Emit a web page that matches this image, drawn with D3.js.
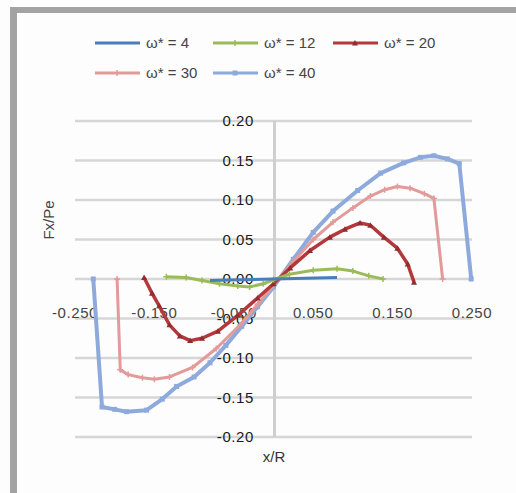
<!DOCTYPE html>
<html>
<head>
<meta charset="utf-8">
<script src="https://cdn.jsdelivr.net/npm/d3@7"></script>
<style>
  body { margin: 0; background: #fff; }
  text { font-family: "Liberation Sans", Arial, sans-serif; }
</style>
</head>
<body>
<div id="viz"></div>
<script>
const width = 516;
const height = 493;

// Data (x/R, Fx/Pe)
const w4X  = [-0.080, -0.040, 0.000, 0.040, 0.080];
const w4Y  = [-0.002, -0.001, 0.000, 0.001, 0.002];

const w12X = [-0.135, -0.110, -0.090, -0.068, -0.045, -0.030, -0.013, 0.000, 0.020, 0.050, 0.080, 0.100, 0.120, 0.138];
const w12Y = [0.003, 0.002, -0.002, -0.006, -0.009, -0.010, -0.006, -0.001, 0.006, 0.011, 0.013, 0.010, 0.004, 0.000];

const w20X = [-0.163, -0.153, -0.144, -0.131, -0.118, -0.105, -0.090, -0.070, -0.045, -0.020, 0.000, 0.021, 0.046, 0.071, 0.090, 0.109, 0.122, 0.139, 0.156, 0.169, 0.177];
const w20Y = [0.002, -0.018, -0.034, -0.058, -0.072, -0.078, -0.075, -0.066, -0.046, -0.024, -0.006, 0.014, 0.036, 0.053, 0.063, 0.071, 0.068, 0.053, 0.039, 0.019, -0.004];

const w30X = [-0.197, -0.193, -0.183, -0.165, -0.150, -0.131, -0.102, -0.072, -0.042, -0.020, 0.000, 0.025, 0.050, 0.075, 0.100, 0.122, 0.140, 0.156, 0.172, 0.190, 0.202, 0.213];
const w30Y = [0.000, -0.115, -0.121, -0.125, -0.127, -0.124, -0.112, -0.088, -0.058, -0.032, -0.008, 0.022, 0.050, 0.072, 0.090, 0.105, 0.113, 0.117, 0.115, 0.108, 0.102, 0.000];

const w40X = [-0.227, -0.216, -0.200, -0.185, -0.160, -0.140, -0.122, -0.100, -0.080, -0.060, -0.040, -0.020, 0.000, 0.025, 0.050, 0.075, 0.106, 0.135, 0.164, 0.185, 0.202, 0.219, 0.234, 0.249];
const w40Y = [0.000, -0.162, -0.165, -0.168, -0.166, -0.152, -0.136, -0.124, -0.106, -0.084, -0.060, -0.035, -0.010, 0.025, 0.059, 0.086, 0.112, 0.134, 0.147, 0.154, 0.156, 0.152, 0.146, 0.000];

const yTicks = [0.20, 0.15, 0.10, 0.05, 0.00, -0.05, -0.10, -0.15, -0.20];
const xTicks = [-0.250, -0.150, -0.050, 0.050, 0.150, 0.250];

const series = [
  { label: 'ω* = 4',  xs: w4X,  ys: w4Y,  color: '#4a7ebb', width: 3,   marker: 'none' },
  { label: 'ω* = 12', xs: w12X, ys: w12Y, color: '#9bbb59', width: 3,   marker: 'plus' },
  { label: 'ω* = 20', xs: w20X, ys: w20Y, color: '#b3383b', width: 3.5, marker: 'tri' },
  { label: 'ω* = 30', xs: w30X, ys: w30Y, color: '#e29a9a', width: 3,   marker: 'plus' },
  { label: 'ω* = 40', xs: w40X, ys: w40Y, color: '#8eaadc', width: 4,   marker: 'square' },
];

const svg = d3.select('#viz')
  .append('svg')
    .attr('width', width)
    .attr('height', height);

svg.append('rect')
    .attr('width', width).attr('height', height)
    .attr('fill', '#fdfdfd');

// screenshot frame (top and left edges)
svg.append('rect').attr('x', 10).attr('y', 7).attr('width', width - 10).attr('height', 6).attr('fill', '#a3a3a3');
svg.append('rect').attr('x', 10).attr('y', 7).attr('width', 7).attr('height', height - 7).attr('fill', '#a3a3a3');

// scales
const scaleX = d3.scaleLinear().domain([-0.25, 0.25]).range([75, 472]);
const scaleY = d3.scaleLinear().domain([-0.2, 0.2]).range([437, 121]);

// gridlines
svg.append('g')
  .selectAll('line')
  .data(yTicks)
  .join('line')
    .attr('x1', scaleX(-0.25))
    .attr('x2', scaleX(0.25))
    .attr('y1', d => scaleY(d))
    .attr('y2', d => scaleY(d))
    .attr('stroke', '#d6d6d6')
    .attr('stroke-width', 2.5);

// vertical axis line at x = 0
svg.append('line')
    .attr('x1', scaleX(0) + 1).attr('x2', scaleX(0) + 1)
    .attr('y1', scaleY(0.2)).attr('y2', scaleY(-0.2))
    .attr('stroke', '#cfcfcf')
    .attr('stroke-width', 3);

// y tick labels
svg.append('g')
  .selectAll('text')
  .data(yTicks)
  .join('text')
    .attr('x', 254)
    .attr('y', d => scaleY(d))
    .attr('dy', '0.35em')
    .attr('text-anchor', 'end')
    .attr('fill', '#1a1a1a')
    .style('font-size', '15px')
    .style('letter-spacing', '0.6px')
    .text(d => d.toFixed(2).replace('-0.00', '0.00'));

// x tick labels
svg.append('g')
  .selectAll('text')
  .data(xTicks)
  .join('text')
    .attr('x', d => scaleX(d))
    .attr('y', 313)
    .attr('dy', '0.35em')
    .attr('text-anchor', 'middle')
    .attr('fill', '#444')
    .style('font-size', '15px')
    .style('letter-spacing', '0.6px')
    .text(d => d.toFixed(3));

// axis titles
svg.append('text')
    .attr('transform', `translate(49, 220) rotate(-90)`)
    .attr('text-anchor', 'middle')
    .attr('dy', '0.35em')
    .attr('fill', '#444')
    .style('font-size', '15px')
    .text('Fx/Pe');
svg.append('text')
    .attr('x', 274)
    .attr('y', 457)
    .attr('dy', '0.35em')
    .attr('text-anchor', 'middle')
    .attr('fill', '#333')
    .style('font-size', '15px')
    .text('x/R');

// markers
const drawMarker = (g, type, color, x, y) => {
  if (type === 'square') {
    g.append('rect').attr('x', x - 2.5).attr('y', y - 2.5).attr('width', 5).attr('height', 5).attr('fill', color);
  } else if (type === 'plus') {
    g.append('path').attr('d', `M${x - 3},${y}H${x + 3}M${x},${y - 3}V${y + 3}`)
      .attr('stroke', color).attr('stroke-width', 1.5);
  } else if (type === 'tri') {
    g.append('path').attr('d', `M${x},${y - 3}L${x + 3},${y + 2.5}L${x - 3},${y + 2.5}Z`).attr('fill', d3.color(color).darker(0.6));
  }
};

// series lines
const line = d3.line()
  .x(d => scaleX(d[0]))
  .y(d => scaleY(d[1]));

const plot = svg.append('g').attr('class', 'series');
series.slice().reverse().forEach(s => {
  const pts = s.xs.map((x, i) => [x, s.ys[i]]);
  plot.append('path')
      .attr('d', line(pts))
      .attr('fill', 'none')
      .attr('stroke', s.color)
      .attr('stroke-width', s.width)
      .attr('stroke-linejoin', 'round');
  const mg = plot.append('g');
  pts.forEach(p => drawMarker(mg, s.marker, s.color, scaleX(p[0]), scaleY(p[1])));
});

// legend
const legendPos = [
  { x: 95,  y: 43 }, { x: 213, y: 43 }, { x: 333, y: 43 },
  { x: 95,  y: 73 }, { x: 213, y: 73 },
];
const legend = svg.append('g').attr('class', 'legend');
series.forEach((s, i) => {
  const p = legendPos[i];
  legend.append('line')
      .attr('x1', p.x).attr('x2', p.x + 45)
      .attr('y1', p.y).attr('y2', p.y)
      .attr('stroke', s.color)
      .attr('stroke-width', 3);
  drawMarker(legend, s.marker, s.color, p.x + 22, p.y);
  legend.append('text')
      .attr('x', p.x + 51)
      .attr('y', p.y)
      .attr('dy', '0.35em')
      .attr('fill', '#444')
      .style('font-size', '15px')
      .text(s.label);
});
</script>
</body>
</html>
